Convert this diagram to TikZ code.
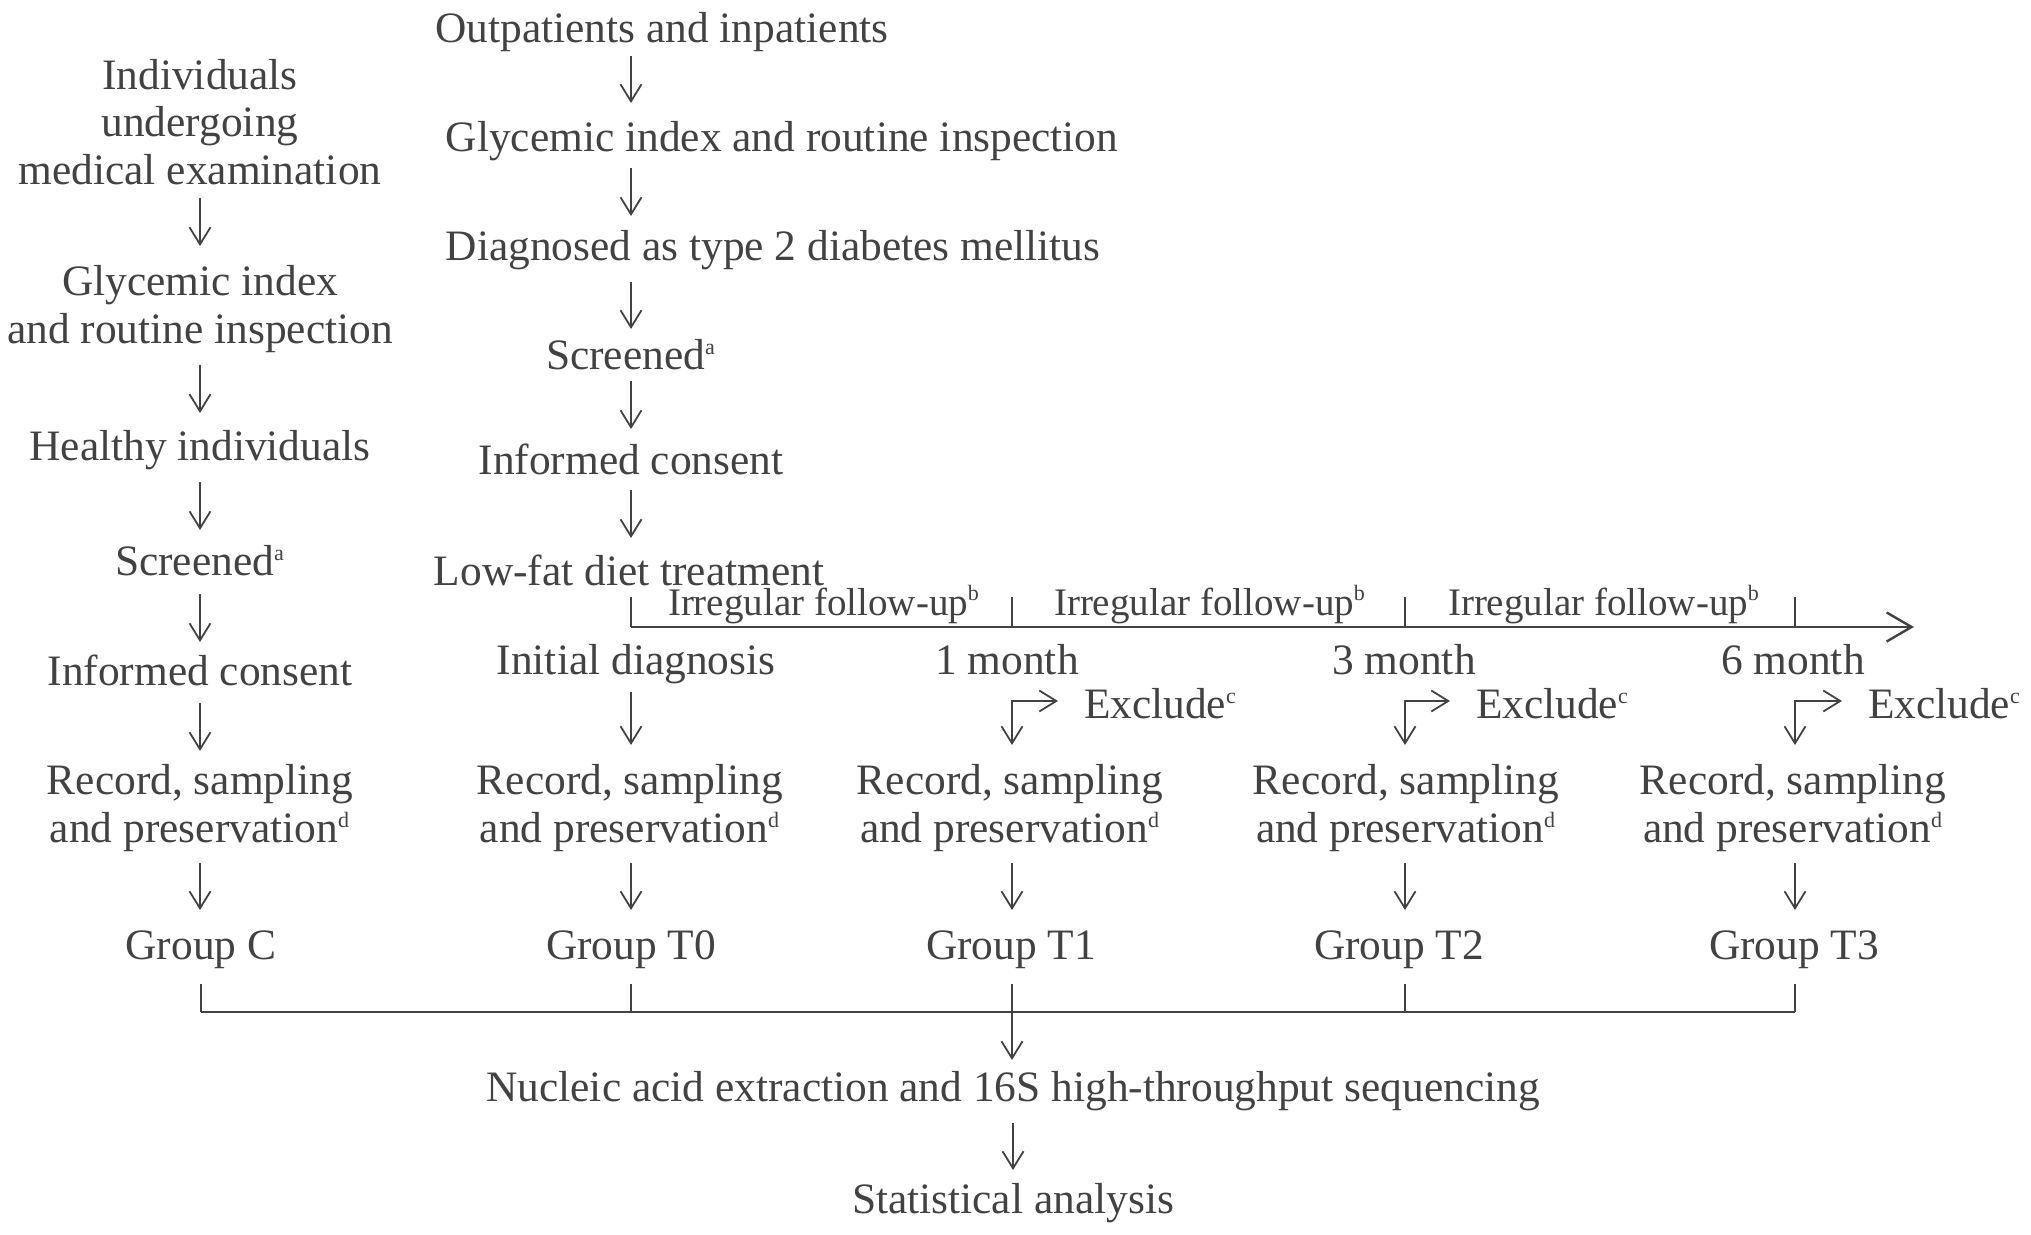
\documentclass[tikz,border=0pt]{standalone}
\usepackage{fontspec}
\setmainfont{Liberation Serif}
\usetikzlibrary{arrows.meta}
\definecolor{ink}{RGB}{66,66,66}
\newcommand\supl[1]{\textsuperscript{\fontsize{11}{11}\selectfont #1}}
\begin{document}
\begin{tikzpicture}[x=0.5pt,y=-0.5pt,
  lbl/.style={font=\fontsize{21.7}{23.8}\selectfont, text=ink, inner sep=0pt, outer sep=0pt, align=center},
  one/.style={lbl, text height=15.2pt, text depth=4.8pt},
  small/.style={font=\fontsize{19.5}{21}\selectfont, text=ink, inner sep=0pt, text height=13.6pt, text depth=4.3pt},
  arr/.style={draw=ink, line width=0.9pt, -{Straight Barb[length=8.5pt,width=10.5pt]}},
  elbow/.style={draw=ink, line width=0.9pt, {Straight Barb[length=8.5pt,width=10.5pt]}-{Straight Barb[length=8.5pt,width=10.5pt]}},
  thin/.style={draw=ink, line width=0.9pt},
  thick/.style={draw=ink, line width=1.2pt},
  bigarr/.style={draw=ink, line width=1.2pt, -{Straight Barb[length=12.5pt,width=14.5pt]}}]
\useasboundingbox (0,0) rectangle (2031,1235);
% left column
\node[lbl] (L1) at (200,122) {Individuals\\undergoing\\medical examination};
\node[lbl] (L2) at (200,309) {Glycemic index\\and routine inspection};
\node[one] (L3) at (200,450) {Healthy individuals};
\node[one] (L4) at (200,565) {Screened\supl{a}};
\node[one] (L5) at (200,675) {Informed consent};
\node[lbl] (L6) at (200,808) {Record, sampling\\and preservation\supl{d}};
\node[one] (L7) at (201,949) {Group C};
% middle column
\node[one] (M1) at (662,32) {Outpatients and inpatients};
\node[one] (M2) at (782,141) {Glycemic index and routine inspection};
\node[one] (M3) at (773,250) {Diagnosed as type 2 diabetes mellitus};
\node[one] (M4) at (631,359) {Screened\supl{a}};
\node[one] (M5) at (631,464) {Informed consent};
\node[lbl, text height=15.2pt, text depth=0pt] (M6) at (629,570) {Low-fat diet treatment};
% timeline
\coordinate (t0) at (631,627);
\coordinate (t1) at (1012,627);
\coordinate (t2) at (1405,627);
\coordinate (t3) at (1795,627);
\coordinate (tend) at (1914,627);
\draw[bigarr] (t0) -- (tend);
\foreach \t in {t0,t1,t2,t3} \draw[thin] (\t) -- ++(0,-30);
\node[small] (F1) at (824,606) {Irregular follow-up\supl{b}};
\node[small] (F2) at (1210,606) {Irregular follow-up\supl{b}};
\node[small] (F3) at (1604,606) {Irregular follow-up\supl{b}};
\node[one] (D0) at (636,664) {Initial diagnosis};
\node[one] (D1) at (1007,664) {1 month};
\node[one] (D2) at (1404,664) {3 month};
\node[one] (D3) at (1793,664) {6 month};
\node[one, anchor=west] (X1) at (1084,708) {Exclude\supl{c}};
\node[one, anchor=west] (X2) at (1476,708) {Exclude\supl{c}};
\node[one, anchor=west] (X3) at (1868,708) {Exclude\supl{c}};
\draw[elbow] (t1 |- 0,745) -- (t1 |- 0,701) -- ([xshift=-13pt,yshift=3.5pt]X1.west);
\draw[elbow] (t2 |- 0,745) -- (t2 |- 0,701) -- ([xshift=-13pt,yshift=3.5pt]X2.west);
\draw[elbow] (t3 |- 0,745) -- (t3 |- 0,701) -- ([xshift=-13pt,yshift=3.5pt]X3.west);
\node[lbl] (R0) at (630,808) {Record, sampling\\and preservation\supl{d}};
\node[lbl] (R1) at (1010,808) {Record, sampling\\and preservation\supl{d}};
\node[lbl] (R2) at (1406,808) {Record, sampling\\and preservation\supl{d}};
\node[lbl] (R3) at (1793,808) {Record, sampling\\and preservation\supl{d}};
\node[one] (G0) at (631,949) {Group T0};
\node[one] (G1) at (1011,949) {Group T1};
\node[one] (G2) at (1399,949) {Group T2};
\node[one] (G3) at (1794,949) {Group T3};
\node[one] (N) at (1013,1091) {Nucleic acid extraction and 16S high-throughput sequencing};
\node[one] (S) at (1013,1203) {Statistical analysis};
% left arrows
\draw[arr] (L1 |- 0,198) -- (L1 |- 0,246);
\draw[arr] (L2 |- 0,365) -- (L2 |- 0,413);
\draw[arr] (L3 |- 0,482) -- (L3 |- 0,530);
\draw[arr] (L4 |- 0,594) -- (L4 |- 0,642);
\draw[arr] (L5 |- 0,703) -- (L5 |- 0,751);
\draw[arr] (L6 |- 0,863) -- (L6 |- 0,910);
% middle arrows
\draw[arr] (M4 |- 0,56) -- (M4 |- 0,103);
\draw[arr] (M4 |- 0,168) -- (M4 |- 0,216);
\draw[arr] (M4 |- 0,282) -- (M4 |- 0,329);
\draw[arr] (M4 |- 0,381) -- (M4 |- 0,429);
\draw[arr] (M4 |- 0,490) -- (M4 |- 0,538);
\draw[arr] (t0 |- 0,692) -- (t0 |- 0,745);
\draw[arr] (t0 |- 0,863) -- (t0 |- 0,910);
\draw[arr] (t1 |- 0,863) -- (t1 |- 0,910);
\draw[arr] (t2 |- 0,863) -- (t2 |- 0,910);
\draw[arr] (t3 |- 0,863) -- (t3 |- 0,910);
% bus
\draw[thin] (L7 |- 0,984) -- (L7 |- 0,1012);
\draw[thin] (t0 |- 0,984) -- (t0 |- 0,1012);
\draw[thin] (t1 |- 0,984) -- (t1 |- 0,1012);
\draw[thin] (t2 |- 0,984) -- (t2 |- 0,1012);
\draw[thin] (t3 |- 0,984) -- (t3 |- 0,1012);
\draw[thick] (L7 |- 0,1012) -- (t3 |- 0,1012);
\draw[arr] (t1 |- 0,1012) -- (t1 |- 0,1060);
\draw[arr] (N |- 0,1123) -- (N |- 0,1170);
\end{tikzpicture}
\end{document}
